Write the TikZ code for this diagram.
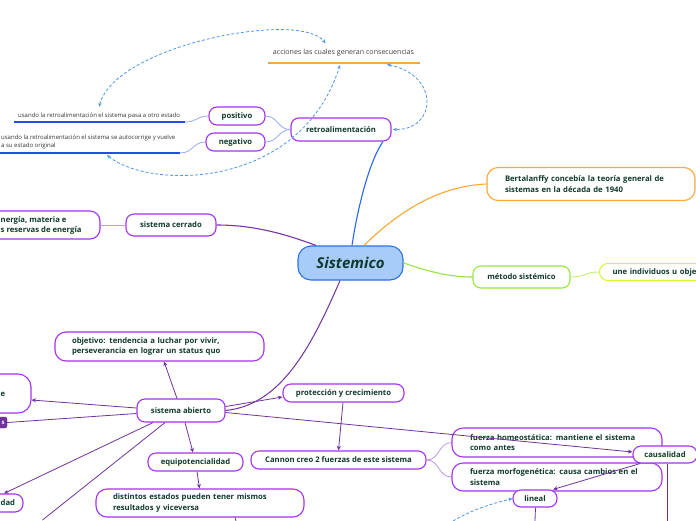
\documentclass[tikz,border=0pt]{standalone}
\usepackage{fontspec}
\setmainfont{Open Sans}
\usetikzlibrary{arrows.meta}
\definecolor{txt}{RGB}{16,58,46}
\definecolor{pur}{RGB}{165,50,238}
\definecolor{lnp}{RGB}{112,50,155}
\definecolor{lpur}{RGB}{190,155,225}
\definecolor{bline}{RGB}{40,100,245}
\definecolor{lblue}{RGB}{150,170,245}
\definecolor{ulblue}{RGB}{30,80,225}
\definecolor{dashb}{RGB}{80,150,230}
\definecolor{orng}{RGB}{250,168,55}
\definecolor{grn}{RGB}{150,230,60}
\definecolor{lgrn}{RGB}{200,240,130}
\definecolor{ylg}{RGB}{215,245,60}
\definecolor{sisfill}{RGB}{168,204,250}
\definecolor{sisdraw}{RGB}{45,115,220}
\tikzset{
  box/.style={draw=pur, line width=1.1pt, rounded corners=8pt, fill=white, text=txt,
    font=\bfseries\fontsize{7.7}{10.8}\selectfont, inner sep=0pt, align=center},
  mbox/.style={box, align=left},
  btxt/.style={text=txt, font=\bfseries\fontsize{7.7}{10.8}\selectfont, inner sep=0pt, align=left},
  smalltxt/.style={text=black!80, font=\fontsize{6}{8}\selectfont, inner sep=0pt, align=left},
  acctxt/.style={text=black!75, font=\fontsize{7.1}{8}\selectfont, inner sep=0pt},
  arr/.style={draw=lnp, line width=0.8pt, -{Stealth[length=4.5pt,width=4pt]}},
  pline/.style={draw=lnp, line width=0.8pt},
  lpline/.style={draw=lpur, line width=0.8pt},
  lbline/.style={draw=lblue, line width=0.8pt},
  ulline/.style={draw=ulblue, line width=1.2pt},
  dashrel/.style={draw=dashb, line width=0.8pt, dash pattern=on 3pt off 2pt, {Stealth[length=4pt,width=3.5pt]}-{Stealth[length=4pt,width=3.5pt]}},
  dashend/.style={draw=dashb, line width=0.8pt, dash pattern=on 3pt off 2pt, -{Stealth[length=4pt,width=3.5pt]}}
}
\begin{document}
\begin{tikzpicture}[x=1pt,y=-1pt]
\useasboundingbox (0,0) rectangle (696,520);
\clip (0,0) rectangle (696,520);
\fill[white] (0,0) rectangle (696,520);

% central
\node[box, minimum width=105pt, minimum height=34pt, fill=sisfill, draw=sisdraw, rounded corners=13pt,
  font=\bfseries\itshape\fontsize{15}{18}\selectfont] (sis) at (350.5,263) {Sistemico};

% retroalimentacion branch
\node[box, minimum width=100pt, minimum height=23pt] (retro) at (341,129.5) {retroalimentación};
\node[box, minimum width=56pt, minimum height=18pt] (pos) at (237,116) {positivo};
\node[box, minimum width=59pt, minimum height=18pt] (neg) at (235.5,142) {negativo};
\node[smalltxt, anchor=west] (usp) at (18,116) {usando la retroalimentación el sistema pasa a otro estado};
\coordinate (uspL) at (14,122);
\coordinate (uspR) at (185,122);
\node[smalltxt, anchor=west] (usn) at (1,142) {usando la retroalimentación el sistema se autocorrige y vuelve\\a su estado original};
\coordinate (usnL) at (0,153);
\coordinate (usnR) at (180,153);
\node[acctxt] (acc) at (343.5,53) {acciones las cuales generan consecuencias};
\coordinate (accL) at (268,63);
\coordinate (accR) at (420,63);

% right branches
\node[mbox, draw=orng, minimum width=208pt, minimum height=33pt, text width=172pt, rounded corners=11pt] (ber) at (591,184)
  {Bertalanffy concebía la teoría general de\\sistemas en la década de 1940};
\node[box, draw=grn, minimum width=97pt, minimum height=22pt] (met) at (521.5,277) {método sistémico};
\node[mbox, draw=ylg, minimum width=130pt, minimum height=17pt, text width=104pt, anchor=west] (une) at (599,272) {une individuos u obje};

% sistema cerrado
\node[box, minimum width=90pt, minimum height=22pt] (cer) at (171,225) {sistema cerrado};
\node[box, minimum width=160pt, minimum height=28pt, rounded corners=10pt] (cerL) at (20,225) {};
\node[btxt, anchor=west] (cerLt) at (0.5,225.5) {nergía, materia e\\s reservas de energía};

% sistema abierto
\node[box, minimum width=88pt, minimum height=23pt] (sab) at (181,410.5) {sistema abierto};
\node[mbox, minimum width=209pt, minimum height=29pt, text width=175pt, rounded corners=11pt] (obj) at (159.5,346.5)
  {objetivo: tendencia a luchar por vivir,\\perseverancia en lograr un status quo};
\node[box, minimum width=111pt, minimum height=39pt, rounded corners=13pt] (eB) at (-24.5,393.5) {};
\node[btxt, anchor=west] (eBt) at (0.5,394) {e};
\node[draw=lnp, fill=lnp, rounded corners=2pt, minimum width=27pt, minimum height=11pt, inner sep=0pt] (fB) at (-6.5,422.5) {};
\node[text=white, font=\bfseries\fontsize{6}{7}\selectfont, inner sep=0pt] (fBt) at (3,422.5) {s};
\node[box, minimum width=63pt, minimum height=18pt] (dadB) at (-8.5,503) {};
\node[btxt, anchor=west] (dadBt) at (0.5,503) {dad};
\node[box, minimum width=95pt, minimum height=18pt] (eqp) at (195.5,462) {equipotencialidad};
\node[mbox, minimum width=208pt, minimum height=28pt, text width=174pt, rounded corners=11pt] (dis) at (200,503)
  {distintos estados pueden tener mismos\\resultados y viceversa};
\node[box, minimum width=121pt, minimum height=18pt] (pro) at (343.5,393) {protección y crecimiento};
\node[box, minimum width=175pt, minimum height=18pt] (can) at (338.5,460) {Cannon creo 2 fuerzas de este sistema};
\node[mbox, minimum width=210pt, minimum height=29pt, text width=174pt, rounded corners=11pt] (hom) at (557,442.5)
  {fuerza homeostática: mantiene el sistema\\como antes};
\node[mbox, minimum width=210pt, minimum height=28pt, text width=174pt, rounded corners=11pt] (mor) at (557,477)
  {fuerza morfogenética: causa cambios en el\\sistema};
\node[box, minimum width=64pt, minimum height=17pt] (cau) at (665,454.5) {causalidad};
\node[box, minimum width=44pt, minimum height=17pt] (lin) at (535,498.5) {lineal};

\coordinate (offA) at (42.5,520);
\coordinate (offD) at (236,521);
\coordinate (offL) at (535,521);
\coordinate (offC) at (667,521);
\coordinate (dashS) at (453,521);

% main connectors
\draw[draw=bline, line width=1.1pt] ([xshift=1.5pt]sis.north) .. controls (358,205) and (370,160) .. ([xshift=42pt]retro.south);
\draw[pline, draw=lnp!80!pur, line width=1.1pt] ([xshift=-34.5pt]sis.north) .. controls (280,232) and (250,225) .. (cer.east);
\draw[draw=orng, line width=1.1pt] ([xshift=13.5pt]sis.north) .. controls (400,210) and (440,186) .. (ber.west);
\draw[draw=grn, line width=1.1pt] (sis.east) .. controls (430,272) and (450,277) .. (met.west);
\draw[draw=lgrn, line width=1pt] (met.east) .. controls (585,277) and (585,272) .. (une.west);
\draw[pline, line width=1pt] ([xshift=-10.5pt]sis.south) .. controls (310,350) and (280,405) .. (sab.east);

% retro sub
\draw[lbline] (retro.west) .. controls (278,130) and (278,116) .. (pos.east);
\draw[lbline] (retro.west) .. controls (278,130) and (278,142) .. (neg.east);
\draw[lbline] (pos.west) .. controls (197,116) and (197,122) .. (uspR);
\draw[lbline] (neg.west) .. controls (193,142) and (193,153) .. (usnR);
\draw[ulline] (uspL) -- (uspR);
\draw[ulline] (usnL) -- (usnR);
\draw[draw=orng, line width=1.2pt] (accL) -- (accR);

% dashed relations
\draw[dashrel] ([yshift=6pt]usp.north) .. controls (115,45) and (300,10) .. ([xshift=-18pt,yshift=6pt]acc.north);
\draw[dashrel] ([xshift=107pt,yshift=-2pt]usnL) .. controls (150,190) and (300,190) .. ([xshift=72pt,yshift=-2pt]accL);
\draw[dashrel] ([xshift=119pt,yshift=-1.5pt]accL) .. controls (440,75) and (437,130) .. ([xshift=1.5pt]retro.east);
\draw[dashend] (dashS) .. controls (475,508) and (495,503) .. (lin.west);

% cerrado sub
\draw[lpline] (cer.west) -- (cerL.east);

% abierto subs
\draw[arr] ([xshift=-4pt]sab.north) -- ([xshift=4.5pt]obj.south);
\draw[arr] ([yshift=2.5pt]sab.west) -- ([yshift=-6.5pt]eB.east);
\draw[pline] ([yshift=-3pt]sab.west) -- (fB.east);
\draw[arr] ([xshift=-28pt]sab.south) -- ([xshift=12.5pt]dadB.north);
\draw[pline] ([xshift=-16pt]sab.south) -- (offA);
\draw[arr] ([xshift=4pt]sab.south) -- ([xshift=-2.5pt]eqp.north);
\draw[arr] ([xshift=1.5pt]eqp.south) -- ([xshift=-0.5pt]dis.north);
\draw[pline] ([xshift=35pt]dis.south) -- (offD);
\draw[arr] ([yshift=4pt]sab.east) -- ([yshift=-4pt]pro.west);
\draw[arr] ([yshift=-2pt]sab.east) -- ([yshift=2.5pt]cau.west);
\draw[arr] ([xshift=-0.5pt]pro.south) -- (can.north);
\draw[lpline] (can.east) .. controls (440,460) and (438,443) .. (hom.west);
\draw[lpline] (can.east) .. controls (440,460) and (438,477) .. (mor.west);
\draw[arr] ([xshift=-25pt]cau.south) -- ([xshift=18pt]lin.north);
\draw[pline] ([xshift=0.5pt]lin.south) -- (offL);
\draw[pline] ([xshift=2pt]cau.south) -- (offC);
\end{tikzpicture}
\end{document}
